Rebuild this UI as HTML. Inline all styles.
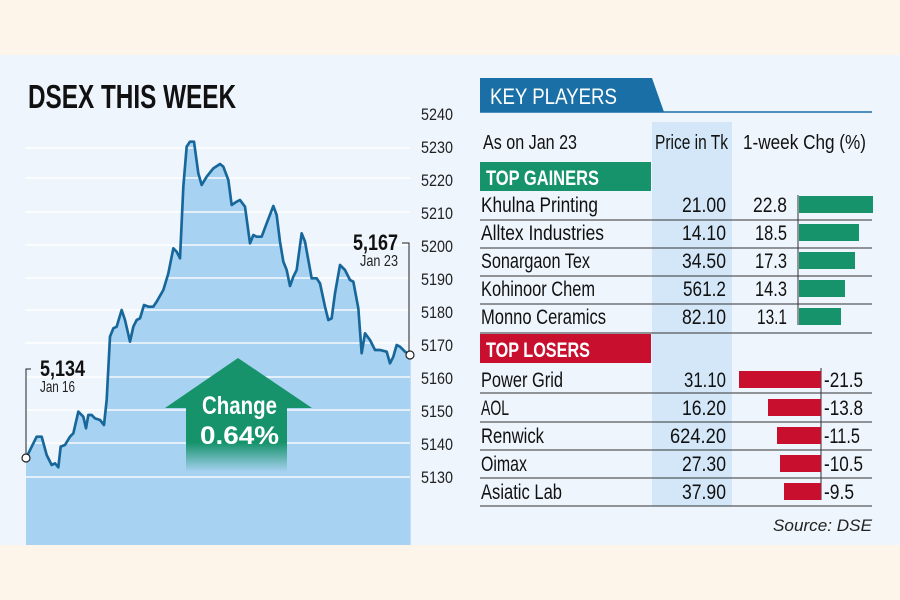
<!DOCTYPE html>
<html><head><meta charset="utf-8"><style>
html,body{margin:0;padding:0}
body{width:900px;height:600px;background:#fdf5ea;position:relative;overflow:hidden;font-family:"Liberation Sans",sans-serif}
svg{position:absolute;left:0;top:0}
</style></head><body>
<svg width="900" height="600" viewBox="0 0 900 600" xmlns="http://www.w3.org/2000/svg" font-family="Liberation Sans, sans-serif">
<defs>
<linearGradient id="fade" x1="0" y1="0" x2="0" y2="1">
<stop offset="0" stop-color="#16936b"/><stop offset="0.55" stop-color="#16936b"/><stop offset="1" stop-color="#16936b" stop-opacity="0"/>
</linearGradient>
</defs>
<rect x="0" y="55" width="900" height="490" fill="#eef5fc"/>
<text x="28" y="108" font-size="33" font-weight="bold" fill="#111" textLength="208" lengthAdjust="spacingAndGlyphs">DSEX THIS WEEK</text>
<g transform="translate(0,60) scale(0.33333)">
<polygon fill="#a8d2f2" points="78,1455 78,1195 95,1160 110,1130 125,1130 140,1185 155,1215 165,1210 175,1222 182,1160 195,1155 210,1130 220,1120 235,1055 250,1070 258,1105 265,1065 275,1065 285,1075 300,1080 312,1095 320,1020 330,830 340,805 350,800 365,750 375,780 390,845 400,800 410,780 420,775 432,735 445,740 460,740 470,725 490,690 505,640 520,565 530,575 540,595 550,380 560,260 570,245 582,245 595,340 605,375 620,350 640,325 660,312 670,320 685,360 695,435 710,425 720,420 735,440 750,550 760,525 770,530 785,530 800,490 820,438 830,465 840,545 850,605 860,630 870,678 880,650 890,630 905,520 915,545 925,600 935,655 950,655 960,670 975,740 985,780 995,775 1005,700 1020,615 1035,630 1050,660 1060,665 1075,745 1085,880 1095,820 1110,840 1125,870 1140,870 1160,875 1170,910 1180,890 1190,855 1200,860 1215,875 1232,885 1232,1455"/>
</g>
<g stroke="#ffffff" stroke-width="1.5" opacity="0.9">
<line x1="25" y1="148" x2="410" y2="148"/><line x1="25" y1="178" x2="410" y2="178"/>
<line x1="25" y1="212" x2="410" y2="212"/><line x1="25" y1="245" x2="410" y2="245"/>
<line x1="25" y1="278" x2="410" y2="278"/><line x1="25" y1="310" x2="410" y2="310"/>
<line x1="25" y1="343" x2="410" y2="343"/><line x1="25" y1="377" x2="410" y2="377"/>
<line x1="25" y1="410" x2="410" y2="410"/><line x1="25" y1="443" x2="410" y2="443"/>
<line x1="25" y1="477" x2="410" y2="477"/>
</g>
<g transform="translate(0,60) scale(0.33333)">
<polyline fill="none" stroke="#17679a" stroke-width="8" stroke-linejoin="round" points="78,1195 95,1160 110,1130 125,1130 140,1185 155,1215 165,1210 175,1222 182,1160 195,1155 210,1130 220,1120 235,1055 250,1070 258,1105 265,1065 275,1065 285,1075 300,1080 312,1095 320,1020 330,830 340,805 350,800 365,750 375,780 390,845 400,800 410,780 420,775 432,735 445,740 460,740 470,725 490,690 505,640 520,565 530,575 540,595 550,380 560,260 570,245 582,245 595,340 605,375 620,350 640,325 660,312 670,320 685,360 695,435 710,425 720,420 735,440 750,550 760,525 770,530 785,530 800,490 820,438 830,465 840,545 850,605 860,630 870,678 880,650 890,630 905,520 915,545 925,600 935,655 950,655 960,670 975,740 985,780 995,775 1005,700 1020,615 1035,630 1050,660 1060,665 1075,745 1085,880 1095,820 1110,840 1125,870 1140,870 1160,875 1170,910 1180,890 1190,855 1200,860 1215,875 1232,885"/>
</g>
<g font-size="17" fill="#222">
<text x="421" y="120" textLength="32" lengthAdjust="spacingAndGlyphs">5240</text><text x="421" y="153" textLength="32" lengthAdjust="spacingAndGlyphs">5230</text><text x="421" y="186" textLength="32" lengthAdjust="spacingAndGlyphs">5220</text>
<text x="421" y="219" textLength="32" lengthAdjust="spacingAndGlyphs">5210</text><text x="421" y="252" textLength="32" lengthAdjust="spacingAndGlyphs">5200</text><text x="421" y="285" textLength="32" lengthAdjust="spacingAndGlyphs">5190</text>
<text x="421" y="318" textLength="32" lengthAdjust="spacingAndGlyphs">5180</text><text x="421" y="351" textLength="32" lengthAdjust="spacingAndGlyphs">5170</text><text x="421" y="384" textLength="32" lengthAdjust="spacingAndGlyphs">5160</text>
<text x="421" y="417" textLength="32" lengthAdjust="spacingAndGlyphs">5150</text><text x="421" y="450" textLength="32" lengthAdjust="spacingAndGlyphs">5140</text><text x="421" y="483" textLength="32" lengthAdjust="spacingAndGlyphs">5130</text>
</g>
<polyline points="31,369 26,369 26,455" fill="none" stroke="#222" stroke-width="1"/>
<circle cx="26" cy="458" r="4" fill="#fff" stroke="#222" stroke-width="1.2"/>
<text x="40" y="376" font-size="22" font-weight="bold" fill="#111" textLength="45" lengthAdjust="spacingAndGlyphs">5,134</text>
<text x="40" y="392" font-size="16" fill="#222" textLength="35" lengthAdjust="spacingAndGlyphs">Jan 16</text>
<polyline points="402,243 409,243 409,351" fill="none" stroke="#222" stroke-width="1"/>
<circle cx="410" cy="355" r="4" fill="#fff" stroke="#222" stroke-width="1.2"/>
<text x="353" y="250" font-size="22" font-weight="bold" fill="#111" textLength="45" lengthAdjust="spacingAndGlyphs">5,167</text>
<text x="360" y="266" font-size="16" fill="#222" textLength="38" lengthAdjust="spacingAndGlyphs">Jan 23</text>
<polygon points="165,408 238,358 312,408" fill="#16936b"/>
<rect x="186" y="407" width="101" height="65" fill="url(#fade)"/>
<text x="202" y="414" font-size="25" font-weight="bold" fill="#fff" textLength="75" lengthAdjust="spacingAndGlyphs">Change</text>
<text x="200" y="444" font-size="25" font-weight="bold" fill="#fff" textLength="79" lengthAdjust="spacingAndGlyphs">0.64%</text>

<polygon points="480,78 652,78 664,112 480,112" fill="#1a70a6"/>
<line x1="480" y1="112" x2="872" y2="112" stroke="#1a70a6" stroke-width="1.5"/>
<text x="490" y="104" font-size="22" fill="#fff" textLength="127" lengthAdjust="spacingAndGlyphs">KEY PLAYERS</text>
<rect x="652" y="122" width="80" height="384" fill="#d3e7f8"/>
<g font-size="20" fill="#111">
<text x="483" y="149" textLength="94" lengthAdjust="spacingAndGlyphs">As on Jan 23</text>
<text x="655" y="149" textLength="73" lengthAdjust="spacingAndGlyphs">Price in Tk</text>
<text x="743" y="149" textLength="123" lengthAdjust="spacingAndGlyphs">1-week Chg (%)</text>
</g>
<rect x="480" y="162" width="171" height="29" fill="#16936b"/>
<text x="486" y="185" font-size="21" font-weight="bold" fill="#fff" textLength="113" lengthAdjust="spacingAndGlyphs">TOP GAINERS</text>
<rect x="480" y="334" width="171" height="29" fill="#c8102e"/>
<text x="486" y="357" font-size="21" font-weight="bold" fill="#fff" textLength="104" lengthAdjust="spacingAndGlyphs">TOP LOSERS</text>
<g stroke="#333" stroke-width="1">
<line x1="480" y1="220" x2="872" y2="220"/><line x1="480" y1="248" x2="872" y2="248"/>
<line x1="480" y1="276" x2="872" y2="276"/><line x1="480" y1="304" x2="872" y2="304"/>
<line x1="480" y1="333" x2="872" y2="333"/>
<line x1="480" y1="393" x2="872" y2="393"/><line x1="480" y1="422" x2="872" y2="422"/>
<line x1="480" y1="450" x2="872" y2="450"/><line x1="480" y1="478" x2="872" y2="478"/>
<line x1="480" y1="506" x2="872" y2="506"/>
<line x1="798" y1="195" x2="798" y2="325"/>
<line x1="821" y1="368" x2="821" y2="500"/>
</g>
<g fill="#16936b">
<rect x="799" y="196" width="74" height="17"/><rect x="799" y="224" width="60" height="17"/>
<rect x="799" y="252" width="56" height="17"/><rect x="799" y="280" width="46" height="17"/>
<rect x="799" y="308" width="42" height="17"/>
</g>
<g fill="#c8102e">
<rect x="739" y="371" width="82" height="17"/><rect x="768" y="399" width="53" height="17"/>
<rect x="777" y="427" width="44" height="17"/><rect x="780" y="455" width="41" height="17"/>
<rect x="784" y="483" width="37" height="17"/>
</g>
<g font-size="21" fill="#111" lengthAdjust="spacingAndGlyphs">
<text x="481" y="212" textLength="117" lengthAdjust="spacingAndGlyphs">Khulna Printing</text>
<text x="481" y="240" textLength="123" lengthAdjust="spacingAndGlyphs">Alltex Industries</text>
<text x="481" y="268" textLength="109" lengthAdjust="spacingAndGlyphs">Sonargaon Tex</text>
<text x="481" y="296" textLength="114" lengthAdjust="spacingAndGlyphs">Kohinoor Chem</text>
<text x="481" y="324" textLength="125" lengthAdjust="spacingAndGlyphs">Monno Ceramics</text>
<text x="481" y="387" textLength="82" lengthAdjust="spacingAndGlyphs">Power Grid</text>
<text x="481" y="415" textLength="28" lengthAdjust="spacingAndGlyphs">AOL</text>
<text x="481" y="443" textLength="63" lengthAdjust="spacingAndGlyphs">Renwick</text>
<text x="481" y="471" textLength="46" lengthAdjust="spacingAndGlyphs">Oimax</text>
<text x="481" y="499" textLength="81" lengthAdjust="spacingAndGlyphs">Asiatic Lab</text>
</g>
<g font-size="21" fill="#111">
<text x="682" y="212" textLength="44" lengthAdjust="spacingAndGlyphs">21.00</text>
<text x="682" y="240" textLength="44" lengthAdjust="spacingAndGlyphs">14.10</text>
<text x="682" y="268" textLength="44" lengthAdjust="spacingAndGlyphs">34.50</text>
<text x="683" y="296" textLength="43" lengthAdjust="spacingAndGlyphs">561.2</text>
<text x="682" y="324" textLength="44" lengthAdjust="spacingAndGlyphs">82.10</text>
<text x="684" y="387" textLength="42" lengthAdjust="spacingAndGlyphs">31.10</text>
<text x="682" y="415" textLength="44" lengthAdjust="spacingAndGlyphs">16.20</text>
<text x="670" y="443" textLength="56" lengthAdjust="spacingAndGlyphs">624.20</text>
<text x="682" y="471" textLength="44" lengthAdjust="spacingAndGlyphs">27.30</text>
<text x="682" y="499" textLength="44" lengthAdjust="spacingAndGlyphs">37.90</text>
<text x="753" y="212" textLength="34" lengthAdjust="spacingAndGlyphs">22.8</text>
<text x="755" y="240" textLength="32" lengthAdjust="spacingAndGlyphs">18.5</text>
<text x="755" y="268" textLength="32" lengthAdjust="spacingAndGlyphs">17.3</text>
<text x="755" y="296" textLength="32" lengthAdjust="spacingAndGlyphs">14.3</text>
<text x="757" y="324" textLength="30" lengthAdjust="spacingAndGlyphs">13.1</text>
<text x="824" y="387" textLength="39" lengthAdjust="spacingAndGlyphs">-21.5</text>
<text x="824" y="415" textLength="39" lengthAdjust="spacingAndGlyphs">-13.8</text>
<text x="824" y="443" textLength="36" lengthAdjust="spacingAndGlyphs">-11.5</text>
<text x="824" y="471" textLength="39" lengthAdjust="spacingAndGlyphs">-10.5</text>
<text x="824" y="499" textLength="30" lengthAdjust="spacingAndGlyphs">-9.5</text>
</g>
<text x="773" y="531" font-size="17" font-style="italic" fill="#222" textLength="99" lengthAdjust="spacingAndGlyphs">Source: DSE</text>
</svg>
</body></html>
